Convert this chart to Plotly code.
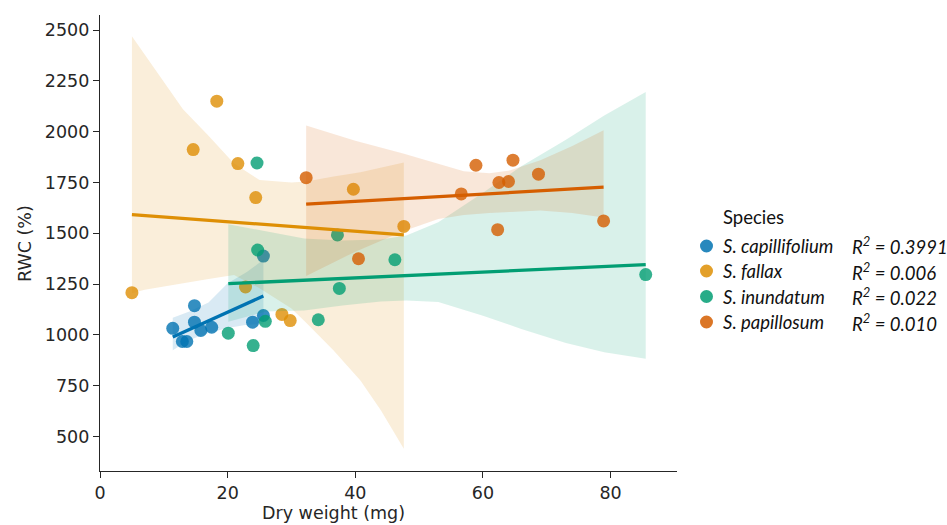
import numpy as np
import plotly.graph_objects as go

# ---------------- data ----------------
species = ["S. capillifolium", "S. fallax", "S. inundatum", "S. papillosum"]
r2_labels = ["0.3991", "0.006", "0.022", "0.010"]
colors = ["#0173b2", "#de8f05", "#029e73", "#d55e00"]

cap_x = [11.4, 14.8, 14.8, 12.9, 13.6, 15.8, 17.5, 23.9, 25.6, 25.6]
cap_y = [1033, 1144, 1063, 968, 968, 1022, 1038, 1063, 1096, 1388]

fal_x = [5.0, 18.3, 14.6, 21.6, 24.4, 39.7, 47.6, 22.8, 28.5, 29.8]
fal_y = [1208, 2150, 1912, 1843, 1676, 1717, 1534, 1236, 1101, 1071]

inu_x = [24.6, 24.7, 20.1, 24.0, 25.9, 34.2, 37.5, 37.2, 46.2, 85.5]
inu_y = [1846, 1418, 1009, 948, 1067, 1075, 1229, 1492, 1370, 1297]

pap_x = [32.3, 40.5, 58.9, 64.7, 62.5, 64.0, 68.7, 56.6, 62.3, 78.9]
pap_y = [1774, 1375, 1835, 1860, 1750, 1755, 1791, 1694, 1518, 1561]

# confidence bands (bootstrap CI)
cap_band_x = [11.4, 14, 17, 20, 23, 25.6]
cap_band_lo = [925, 975, 1010, 1035, 1050, 1055]
cap_band_hi = [1085, 1115, 1160, 1255, 1310, 1370]

fal_band_x = [5, 7, 9.5, 13, 17, 21, 25, 30, 32.3, 36.6, 40.8, 44, 47.6]
fal_band_lo = [1205, 1222, 1238, 1255, 1275, 1295, 1230, 1130, 1060, 924, 776, 630, 440]
fal_band_hi = [2470, 2380, 2270, 2110, 1980, 1843, 1762, 1750, 1755, 1780, 1800, 1822, 1848]

inu_band_x = [20.1, 26, 32, 38, 44, 48, 53, 60, 66, 73, 79, 85.5]
inu_band_lo = [1065, 1115, 1121, 1145, 1165, 1170, 1162, 1095, 1030, 960, 915, 883]
inu_band_hi = [1545, 1510, 1475, 1465, 1470, 1490, 1555, 1700, 1830, 1960, 2080, 2195]

pap_band_x = [32.3, 40, 47.5, 53, 57, 61, 64.3, 69, 74, 78.9]
pap_band_lo = [1290, 1410, 1510, 1570, 1590, 1600, 1605, 1612, 1600, 1578]
pap_band_hi = [2030, 1955, 1893, 1840, 1805, 1795, 1810, 1860, 1930, 2007]

x_ticks = [0, 20, 40, 60, 80]
y_ticks = [500, 750, 1000, 1250, 1500, 1750, 2000, 2250, 2500]
x_title = "Dry weight (mg)"
y_title = "RWC (%)"

groups = [
    (cap_x, cap_y, cap_band_x, cap_band_lo, cap_band_hi),
    (fal_x, fal_y, fal_band_x, fal_band_lo, fal_band_hi),
    (inu_x, inu_y, inu_band_x, inu_band_lo, inu_band_hi),
    (pap_x, pap_y, pap_band_x, pap_band_lo, pap_band_hi),
]

# ---------------- figure ----------------
W, H = 947, 525
ML, MR, MT, MB = 100, 270, 15, 54
PW, PH = W - ML - MR, H - MT - MB


def rgba(hex_color, a):
    h = hex_color.lstrip("#")
    r, g, b = int(h[0:2], 16), int(h[2:4], 16), int(h[4:6], 16)
    return f"rgba({r},{g},{b},{a})"


def px_x(p):
    return (p - ML) / PW


def px_y(p):
    return (H - MB - p) / PH


fig = go.Figure()

# scatter + band per species (drawn in order, like matplotlib zorder 1)
for (gx, gy, bx, lo, hi), col, name in zip(groups, colors, species):
    fig.add_trace(go.Scatter(
        x=gx, y=gy, mode="markers", name=name, showlegend=False,
        marker=dict(size=13, color=col, opacity=0.8, line=dict(width=0)),
        hoverinfo="skip"))
    xs = list(bx) + list(bx)[::-1]
    ys = list(hi) + list(lo)[::-1]
    fig.add_trace(go.Scatter(
        x=xs, y=ys, mode="lines", fill="toself",
        fillcolor=rgba(col, 0.15), line=dict(width=0),
        showlegend=False, hoverinfo="skip"))

# regression lines on top
for (gx, gy, bx, lo, hi), col in zip(groups, colors):
    coef = np.polyfit(np.array(gx, float), np.array(gy, float), 1)
    xs = np.linspace(min(gx), max(gx), 50)
    fig.add_trace(go.Scatter(
        x=xs, y=np.polyval(coef, xs), mode="lines",
        line=dict(color=col, width=3.3), showlegend=False, hoverinfo="skip"))

axis_col = "#262626"
tick_font = dict(family="DejaVu Sans", size=17.5, color=axis_col)

fig.update_xaxes(
    range=[0, 90.4], tickvals=x_ticks, showgrid=False, zeroline=False,
    showline=True, linecolor=axis_col, linewidth=1.3,
    ticks="outside", ticklen=6, tickwidth=1.3, tickcolor=axis_col,
    tickfont=tick_font, automargin=False)
fig.update_yaxes(
    range=[331, 2574], tickvals=y_ticks, showgrid=False, zeroline=False,
    showline=True, linecolor=axis_col, linewidth=1.3,
    ticks="outside", ticklen=6, tickwidth=1.3, tickcolor=axis_col,
    tickfont=tick_font, automargin=False)

annotations = [
    dict(text=x_title, x=px_x(333), y=px_y(513), xref="paper", yref="paper",
         xanchor="center", yanchor="middle", showarrow=False, font=tick_font),
    dict(text=y_title, x=px_x(25), y=px_y(243), xref="paper", yref="paper",
         xanchor="center", yanchor="middle", showarrow=False, font=tick_font,
         textangle=-90),
]

# legend (custom, aligned R^2 column)
leg_font = dict(family="Lato", size=18.5, color="#111111")
annotations.append(dict(
    text="Species", x=px_x(721), y=px_y(217), xref="paper", yref="paper",
    xanchor="left", yanchor="middle", showarrow=False, font=leg_font))
shapes = []
row_y = [246, 271, 296.5, 322]
for name, r2, col, ry in zip(species, r2_labels, colors, row_y):
    annotations.append(dict(
        text=f"<i>{name}</i>", x=px_x(721), y=px_y(ry), xref="paper", yref="paper",
        xanchor="left", yanchor="middle", showarrow=False, font=leg_font))
    annotations.append(dict(
        text=f"<i>R<sup>2</sup> = {r2}</i>", x=px_x(850), y=px_y(ry),
        xref="paper", yref="paper", xanchor="left", yanchor="middle",
        showarrow=False, font=leg_font))
    shapes.append(dict(
        type="circle", xref="paper", yref="paper",
        xsizemode="pixel", ysizemode="pixel",
        xanchor=px_x(706.5), yanchor=px_y(ry),
        x0=-6.5, x1=6.5, y0=-6.5, y1=6.5,
        fillcolor=rgba(col, 0.85), line=dict(width=0)))

fig.update_layout(
    width=W, height=H, autosize=False,
    margin=dict(l=ML, r=MR, t=MT, b=MB, pad=0),
    paper_bgcolor="white", plot_bgcolor="white",
    showlegend=False, annotations=annotations, shapes=shapes)

fig.write_html("out.html")
